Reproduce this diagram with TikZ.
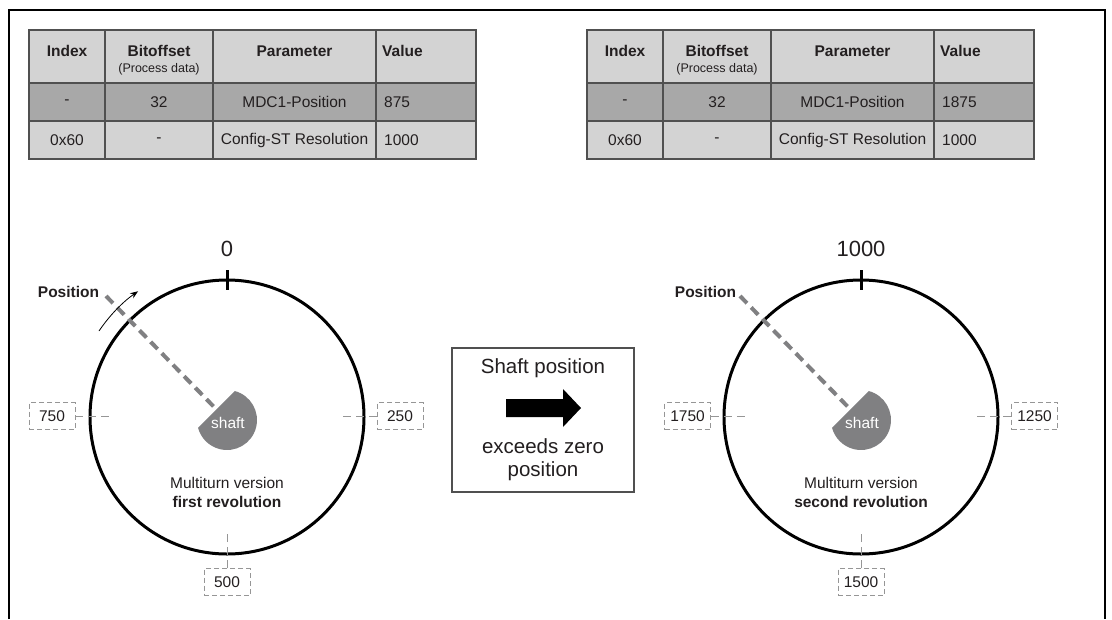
\documentclass[tikz,border=0pt]{standalone}
\usepackage{fontspec}
\setmainfont{Liberation Sans}
\usetikzlibrary{arrows.meta}
\definecolor{hdr}{RGB}{211,211,211}
\definecolor{rowdk}{RGB}{168,168,168}
\definecolor{tline}{RGB}{80,80,80}
\definecolor{ink}{RGB}{35,31,32}
\definecolor{shaftgray}{RGB}{128,128,130}
\definecolor{dashgray}{RGB}{150,150,150}
\newcommand\fs[1]{\fontsize{#1}{#1}\selectfont}
\newcommand\ptable[3]{%
\begin{scope}[xshift=#1pt]
 \fill[hdr] (0,30) rectangle (447,83);
 \fill[rowdk] (0,83) rectangle (447,121);
 \fill[hdr] (0,121) rectangle (447,159);
 \foreach \xx in {76,184,347} \draw[tbl] (\xx,30) -- (\xx,159);
 \foreach \yy in {83,121} \draw[tbl] (0,\yy) -- (447,\yy);
 \draw[tbl] (0,30) rectangle (447,159);
 \node[cell,font=\fs{15.5}\bfseries] (#3hidx) at (38,51) {Index};
 \node[cell,font=\fs{15.5}\bfseries] (#3hbit) at (130,51) {Bitoffset};
 \node[cell,font=\fs{12.5}] (#3hpd) at (130,69) {(Process data)};
 \node[cell,font=\fs{15.5}\bfseries] (#3hpar) at (265.5,51) {Parameter};
 \node[cell,font=\fs{15.5}\bfseries,anchor=west] (#3hval) at (353,51) {Value};
 \node[cell] (#3aidx) at (38,102) {-};
 \node[cell] (#3abit) at (130,102) {32};
 \node[cell] (#3apar) at (265.5,102) {MDC1-Position};
 \node[cell,anchor=west] (#3aval) at (355,102) {#2};
 \node[cell] (#3bidx) at (38,140) {0x60};
 \node[cell] (#3bbit) at (130,140) {-};
 \node[cell] (#3bpar) at (265.5,140) {Config-ST Resolution};
 \node[cell,anchor=west] (#3bval) at (355,140) {1000};
\end{scope}}
\begin{document}
\begin{tikzpicture}[x=1pt,y=-1pt,
  tbl/.style={tline,line width=1.2pt},
  cell/.style={inner sep=0pt,text=ink,font=\fs{15.5}},
  txt/.style={inner sep=0pt,text=ink,font=\fs{15.5}},
  dial/.style={draw=black,circle,line width=3pt,minimum size=274pt,inner sep=0pt},
  lbl/.style={draw=dashgray,line width=0.9pt,dash pattern=on 5pt off 3pt,minimum width=46pt,minimum height=27pt,inner sep=0pt,text=ink,font=\fs{15.5}},
  tickdash/.style={dashgray,line width=1pt,dash pattern=on 8pt off 5pt},
  posline/.style={shaftgray,line width=4pt,dash pattern=on 10pt off 6pt},
  shaftfill/.style={fill=shaftgray},
  big/.style={inner sep=0pt,text=ink,font=\fs{20.5}}]
\useasboundingbox (0,0) rectangle (1112,619);
\fill[white] (0,0) rectangle (1112,619);
% frame
\draw[line width=2pt] (9,619) -- (9,10) -- (1105,10) -- (1105,619);
% tables
\ptable{29}{875}{L}
\ptable{587}{1875}{R}
% ---------- left dial ----------
\node[dial] (lcirc) at (227,417) {};
\draw[line width=3pt] (227,270) -- (227,290);
\node[inner sep=0pt,text=ink,font=\fs{22}] (lzero) at (227,249) {0};
\fill[shaftfill] (227,420) ++(-75:30) arc[start angle=-75,end angle=165,radius=30] -- cycle;
\node[inner sep=0pt,text=white,font=\fs{15.5}] (lshaft) at (228,423) {shaft};
\coordinate (lpend) at (216.4,409.4);
\coordinate (lpstart) at (106,296);
\draw[posline] (lpstart) -- (lpend);
\node[txt,font=\fs{15.5}\bfseries] (lpos) at (68.5,292) {Position};
\coordinate (larcs) at (99,331);
\draw[line width=0.8pt,-{Stealth[length=8pt,width=6pt]}] (larcs) arc[start angle=-146,end angle=-125,radius=153];
\node[lbl] (l750) at (52,416) {750};
\node[lbl] (l250) at (400,416) {250};
\node[lbl] (l500) at (227,582) {500};
\coordinate (l750in) at (113,416);
\coordinate (l250in) at (340,416);
\coordinate (l500in) at (227,531);
\draw[tickdash] (l750.east) -- (l750in);
\draw[tickdash] (l250.west) -- (l250in);
\draw[tickdash] (l500.north) -- (l500in);
\node[txt] (lmt) at (227,483) {Multiturn version};
\node[txt,font=\fs{15.5}\bfseries] (lrev) at (227,502) {first revolution};
% ---------- right dial ----------
\node[dial] (rcirc) at (861,417) {};
\draw[line width=3pt] (861,270) -- (861,290);
\node[inner sep=0pt,text=ink,font=\fs{22}] (rzero) at (861,249) {1000};
\fill[shaftfill] (861,420) ++(-75:30) arc[start angle=-75,end angle=165,radius=30] -- cycle;
\node[inner sep=0pt,text=white,font=\fs{15.5}] (rshaft) at (862,423) {shaft};
\coordinate (rpend) at (850.4,409.4);
\coordinate (rpstart) at (740,296);
\draw[posline] (rpstart) -- (rpend);
\node[txt,font=\fs{15.5}\bfseries] (rpos) at (705.5,292) {Position};
\node[lbl] (r1750) at (687.5,416) {1750};
\node[lbl] (r1250) at (1034.5,416) {1250};
\node[lbl] (r1500) at (861,582) {1500};
\coordinate (r1750in) at (747,416);
\coordinate (r1250in) at (975,416);
\coordinate (r1500in) at (861,531);
\draw[tickdash] (r1750.east) -- (r1750in);
\draw[tickdash] (r1250.west) -- (r1250in);
\draw[tickdash] (r1500.north) -- (r1500in);
\node[txt] (rmt) at (861,483) {Multiturn version};
\node[txt,font=\fs{15.5}\bfseries] (rrev) at (861,502) {second revolution};
% ---------- middle box ----------
\node[draw=tline,line width=1.2pt,minimum width=182pt,minimum height=144pt,inner sep=0pt] (midbox) at (543,420) {};
\node[big] (m1) at (543,368) {Shaft position};
\fill[black] (506,399) -- (563,399) -- (563,389) -- (581,408) -- (563,427) -- (563,417) -- (506,417) -- cycle;
\node[big] (m2) at (543,446) {exceeds zero};
\node[big] (m3) at (543,471) {position};
\end{tikzpicture}
\end{document}
